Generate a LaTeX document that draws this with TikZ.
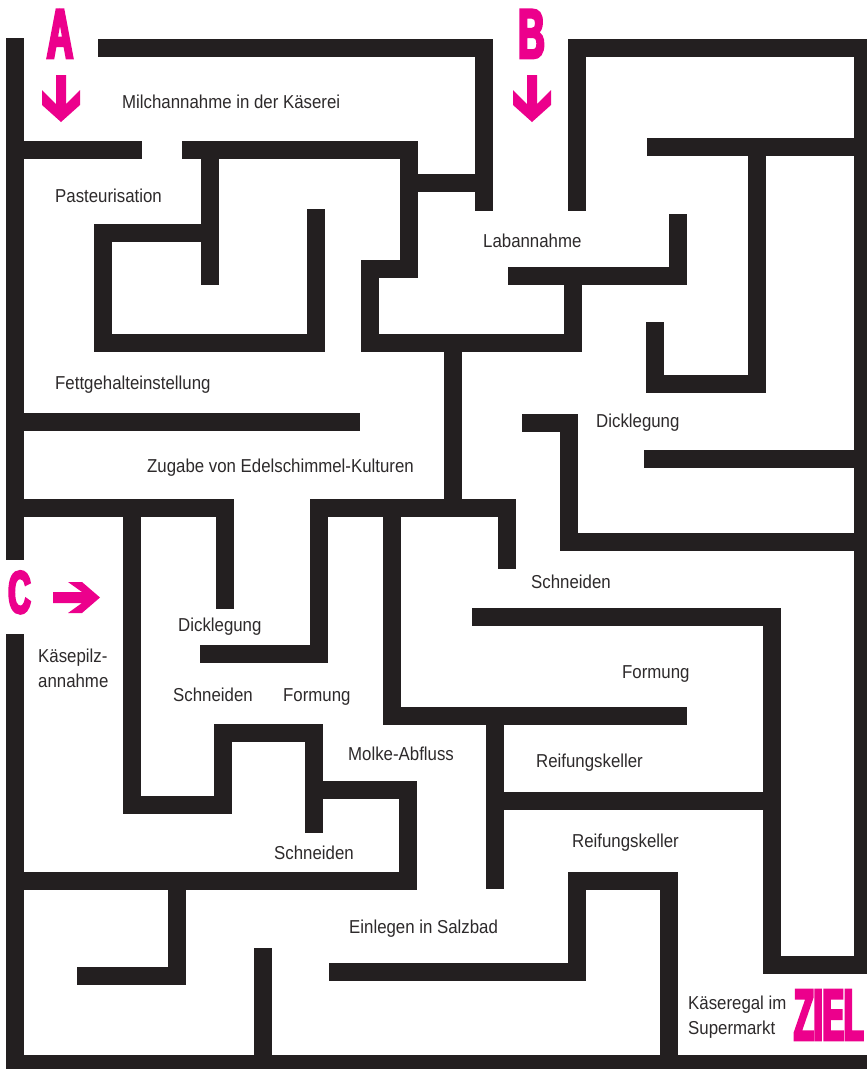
\documentclass[tikz,border=0pt]{standalone}
\usepackage{fontspec}
\setmainfont{Liberation Sans}[FakeStretch=0.9]
\newfontfamily\bigfont{Liberation Sans}[FakeStretch=0.52,FakeBold=4]
\newfontfamily\goalfont{Liberation Sans}[FakeStretch=0.44,FakeBold=4]
\definecolor{wallc}{HTML}{231F20}
\definecolor{pink}{HTML}{EC008C}
\definecolor{txt}{HTML}{2D2A2B}
\begin{document}
\begin{tikzpicture}[x=1pt,y=-1pt,
  wall/.style={line width=18pt, line cap=rect, line join=miter, draw=wallc},
  lbl/.style={anchor=base west, inner sep=0pt, text=txt, font=\fontsize{18.7}{22}\selectfont},
  letter/.style={anchor=base, inner sep=0pt, text=pink, font=\bigfont\bfseries\fontsize{70}{70}\selectfont},
  goal/.style={anchor=base west, inner sep=0pt, text=pink, font=\goalfont\bfseries\fontsize{72.6}{72.6}\selectfont},
  pinkarrow/.style={fill=pink, draw=none}]
\useasboundingbox (0,0) rectangle (867,1069);
\fill[white] (0,0) rectangle (867,1069);

% outer walls
\draw[wall] (15,47) -- (15,551);
\draw[wall] (15,643) -- (15,1064) -- (863,1064);
\draw[wall] (107,48) -- (484,48) -- (484,202);
\draw[wall] (577,202) -- (577,48) -- (863,48) -- (863,964.5) -- (772,964.5) -- (772,617) -- (481,617);

% upper left
\draw[wall] (409,183) -- (484,183);
\draw[wall] (15,150) -- (133,150);
\draw[wall] (191,150) -- (409,150) -- (409,269) -- (370,269) -- (370,343) -- (573,343) -- (573,275.5);
\draw[wall] (517,275.5) -- (678,275.5) -- (678,223);
\draw[wall] (210,150) -- (210,276);
\draw[wall] (210,233) -- (103,233) -- (103,343) -- (316,343) -- (316,218);

% upper right
\draw[wall] (656,146.5) -- (863,146.5);
\draw[wall] (757,146.5) -- (757,384) -- (655,384) -- (655,331);
\draw[wall] (531,423) -- (568.5,423) -- (568.5,542) -- (863,542);
\draw[wall] (653,459) -- (863,459);

% middle
\draw[wall] (453,343) -- (453,508);
\draw[wall] (209,654) -- (319,654) -- (319,508) -- (507,508) -- (507,560);
\draw[wall] (391.5,508) -- (391.5,716) -- (678,716);
\draw[wall] (15,422) -- (351,422);
\draw[wall] (15,508) -- (224.5,508) -- (224.5,600);
\draw[wall] (132,508) -- (132,805) -- (223,805) -- (223,733) -- (314,733) -- (314,824);
\draw[wall] (314,790) -- (408,790) -- (408,881) -- (15,881);

% lower
\draw[wall] (177,881) -- (177,976) -- (86,976);
\draw[wall] (263,957) -- (263,1064);
\draw[wall] (338,972) -- (577,972) -- (577,881) -- (668.5,881) -- (668.5,1064);
\draw[wall] (494.5,716) -- (494.5,880);
\draw[wall] (494.5,801) -- (772,801);

% start / goal markers
\node[letter] (A) at (60,58) {A};
\node[letter] (B) at (531.5,58) {B};
\node[letter, font=\bigfont\bfseries\fontsize{60}{60}\selectfont] (C) at (19.5,613) {C};
\node[goal] (ziel) at (794,1040) {ZIEL};

\fill[pinkarrow] (56,75) -- (66,75) -- (66,104) -- (80,90) -- (80,105) -- (61,122) -- (42,105) -- (42,90) -- (56,104) -- cycle;
\fill[pinkarrow] (527,75) -- (537,75) -- (537,104) -- (551,90) -- (551,105) -- (532,122) -- (513,105) -- (513,90) -- (527,104) -- cycle;
\fill[pinkarrow] (53,592) -- (82,592) -- (68,582) -- (82,582) -- (100,597.5) -- (82,613) -- (68,613) -- (82,603) -- (53,603) -- cycle;

% station labels
\node[lbl] (t1) at (122,108) {Milchannahme in der Käserei};
\node[lbl] (t2) at (55,202) {Pasteurisation};
\node[lbl] (t3) at (483,247) {Labannahme};
\node[lbl] (t4) at (55,389) {Fettgehalteinstellung};
\node[lbl] (t5) at (147,472) {Zugabe von Edelschimmel-Kulturen};
\node[lbl] (t6) at (596,427) {Dicklegung};
\node[lbl] (t7) at (178,631) {Dicklegung};
\node[lbl] (t8a) at (38,662) {Käsepilz-};
\node[lbl] (t8b) at (38,687) {annahme};
\node[lbl] (t9) at (173,701) {Schneiden};
\node[lbl] (t10) at (283,701) {Formung};
\node[lbl] (t11) at (531,588) {Schneiden};
\node[lbl] (t12) at (622,678) {Formung};
\node[lbl] (t13) at (348,760) {Molke-Abfluss};
\node[lbl] (t14) at (536,767) {Reifungskeller};
\node[lbl] (t15) at (572,847) {Reifungskeller};
\node[lbl] (t16) at (274,859) {Schneiden};
\node[lbl] (t17) at (349,933) {Einlegen in Salzbad};
\node[lbl] (t18a) at (688,1009) {Käseregal im};
\node[lbl] (t18b) at (688,1034) {Supermarkt};
\end{tikzpicture}
\end{document}
